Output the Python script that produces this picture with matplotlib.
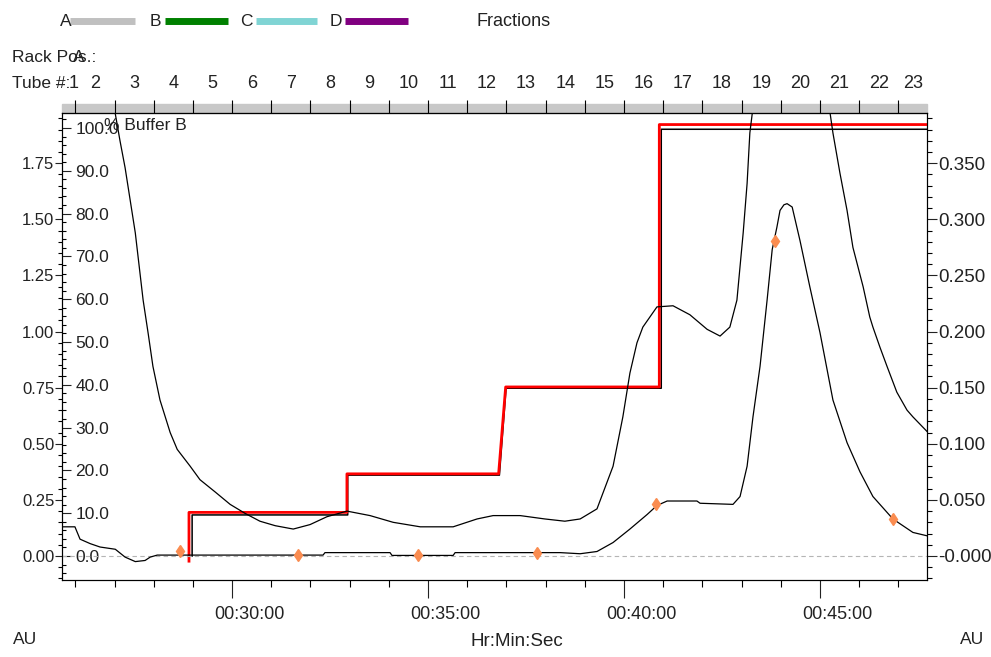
import matplotlib
matplotlib.use('Agg')
import matplotlib.pyplot as plt
import matplotlib.transforms as mtransforms
from matplotlib import font_manager
from matplotlib.lines import Line2D
from matplotlib.patches import Rectangle
from matplotlib.ticker import MultipleLocator

# run time in minutes
t_min, t_max = 25.66, 47.73

# UV trace 1 (AU, right scale)
uv1_t = [25.66, 26.63, 27.02, 27.14, 27.27, 27.40, 27.53, 27.63, 27.73, 27.86,
         27.98, 28.16, 28.42, 28.60, 28.93, 29.18, 29.57, 29.95, 30.33, 30.71,
         31.10, 31.56, 31.99, 32.42, 32.93, 33.52, 34.11, 34.80, 35.64, 36.25,
         36.66, 37.35, 37.98, 38.49, 38.88, 39.31, 39.72, 39.97, 40.15, 40.33,
         40.48, 40.84, 41.25, 41.68, 42.12, 42.45, 42.70, 42.88, 43.04, 43.14,
         43.21, 43.27, 43.47, 44.23, 44.87, 45.26, 45.33, 45.51, 45.69, 45.84,
         46.10, 46.27, 46.35, 46.53, 46.71, 46.96, 47.22, 47.37, 47.73]
uv1 = [0.70, 0.50, 0.394, 0.370, 0.346, 0.317, 0.288, 0.258, 0.228, 0.198,
       0.169, 0.139, 0.110, 0.095, 0.080, 0.068, 0.057, 0.046, 0.038, 0.031,
       0.027, 0.024, 0.028, 0.035, 0.040, 0.036, 0.030, 0.026, 0.026, 0.033,
       0.036, 0.036, 0.033, 0.031, 0.033, 0.042, 0.080, 0.124, 0.163, 0.190,
       0.204, 0.222, 0.223, 0.215, 0.202, 0.196, 0.204, 0.228, 0.288, 0.332,
       0.377, 0.394, 0.50, 0.62, 0.52, 0.394, 0.377, 0.341, 0.308, 0.275,
       0.240, 0.213, 0.204, 0.186, 0.169, 0.146, 0.130, 0.124, 0.111]

# UV trace 2 (AU, right scale)
uv2_t = [25.66, 25.99, 26.12, 26.38, 26.63, 27.02, 27.27, 27.53, 27.78, 27.91,
         28.09, 32.32, 32.37, 34.03, 34.08, 35.64, 35.69, 38.37, 38.88, 39.31,
         39.72, 40.15, 40.59, 40.84, 41.10, 41.86, 41.94, 42.78, 42.96, 43.14,
         43.29, 43.47, 43.65, 43.78, 43.90, 43.98, 44.08, 44.16, 44.29, 44.49,
         44.74, 45.00, 45.33, 45.69, 46.02, 46.35, 46.86, 47.37, 47.73]
uv2 = [0.026, 0.026, 0.015, 0.011, 0.008, 0.006, -0.001, -0.005, -0.004, -0.001,
       0.0008, 0.0008, 0.003, 0.003, 0.0005, 0.0005, 0.003, 0.003, 0.002, 0.004,
       0.012, 0.024, 0.037, 0.045, 0.049, 0.049, 0.047, 0.046, 0.053, 0.080,
       0.124, 0.169, 0.228, 0.273, 0.293, 0.308, 0.313, 0.314, 0.311, 0.281,
       0.240, 0.199, 0.139, 0.101, 0.075, 0.053, 0.033, 0.021, 0.018]

# % Buffer B: set gradient (red) and measured (black)
grad_t = [28.90, 28.90, 32.93, 32.93, 36.80, 36.98, 40.90, 40.90, 47.73]
grad_b = [-1.2, 10.2, 10.2, 19.2, 19.2, 39.5, 39.5, 100.8, 100.8]
cond_t = [28.98, 28.98, 32.95, 32.95, 36.82, 36.99, 40.95, 40.95, 47.73]
cond_b = [0.0, 9.6, 9.6, 18.9, 18.9, 39.2, 39.2, 99.7, 99.7]

# fractions
frac_t = [28.67, 31.68, 34.74, 37.78, 40.82, 43.85, 46.86]
frac_v = [0.004, 0.001, 0.001, 0.003, 0.046, 0.281, 0.033]

tube_bounds = list(range(26, 48))
tube_labels = [str(i) for i in range(1, 24)]

time_ticks = [30, 35, 40, 45]
time_labels = ['00:30:00', '00:35:00', '00:40:00', '00:45:00']
au_ticks = [0.0, 0.25, 0.5, 0.75, 1.0, 1.25, 1.5, 1.75]
au_labels = ['0.00', '0.25', '0.50', '0.75', '1.00', '1.25', '1.50', '1.75']
pct_ticks = list(range(0, 101, 10))
pct_labels = ['%.1f' % v for v in pct_ticks]
r_ticks = [0.0, 0.05, 0.10, 0.15, 0.20, 0.25, 0.30, 0.35]
r_labels = ['-0.000', '0.050', '0.100', '0.150', '0.200', '0.250', '0.300', '0.350']

installed = {f.name for f in font_manager.fontManager.ttflist}
font = 'Liberation Sans Narrow' if 'Liberation Sans Narrow' in installed else 'Liberation Sans'
plt.rcParams['font.family'] = [font, 'DejaVu Sans']
INK = '#222222'

W, H = 991, 657
fig = plt.figure(figsize=(W / 100, H / 100), dpi=100)


def fx(px):
    return px / W


def fy(py):
    return 1 - py / H


ax = fig.add_axes([fx(62), fy(580), 865 / W, 467 / H])
ax.set_xlim(t_min, t_max)
ax.set_ylim(-0.107, 1.974)
for s in ax.spines.values():
    s.set_linewidth(0.8)

# bottom time axis
ax.set_xticks(time_ticks, time_labels)
ax.xaxis.set_minor_locator(MultipleLocator(1))
ax.tick_params(axis='x', which='major', length=13, width=0.8, pad=6, labelsize=13, colors=INK)
ax.tick_params(axis='x', which='minor', length=5, width=0.8)
shift = mtransforms.ScaledTranslation(0.17, 0, fig.dpi_scale_trans)
for lbl in ax.get_xticklabels():
    lbl.set_transform(lbl.get_transform() + shift)

# left AU axis
ax.set_yticks(au_ticks, au_labels)
ax.yaxis.set_minor_locator(MultipleLocator(0.05))
ax.tick_params(axis='y', which='major', length=5, width=0.8, pad=0.5, labelsize=12, colors=INK)
ax.tick_params(axis='y', which='minor', length=3, width=0.8)

# % Buffer B axis, labels inside on the left
ax_pct = ax.twinx()
ax_pct.yaxis.tick_left()
ax_pct.set_ylim(-5.6, 103.5)
ax_pct.set_yticks(pct_ticks, pct_labels)
ax_pct.yaxis.set_minor_locator(MultipleLocator(2))
ax_pct.tick_params(axis='y', which='major', direction='in', length=6.5, width=0.8,
                   pad=-9.5, labelsize=12.5, colors=INK)
ax_pct.tick_params(axis='y', which='minor', direction='in', length=3, width=0.8)
for lbl in ax_pct.get_yticklabels():
    lbl.set_horizontalalignment('left')
for s in ax_pct.spines.values():
    s.set_visible(False)

# right AU axis
ax_r = ax.twinx()
ax_r.set_ylim(-0.0214, 0.3948)
ax_r.set_yticks(r_ticks, r_labels)
ax_r.yaxis.set_minor_locator(MultipleLocator(0.01))
ax_r.tick_params(axis='y', which='major', length=7, width=0.8, pad=1, labelsize=13.5, colors=INK)
ax_r.tick_params(axis='y', which='minor', length=3.5, width=0.8)
for s in ax_r.spines.values():
    s.set_linewidth(0.8)

ax_r.axhline(0, color='#b5b5b5', lw=0.8, ls=(0, (4, 3)))
ax_r.plot(uv1_t, uv1, color='black', lw=0.9)
ax_r.plot(uv2_t, uv2, color='black', lw=0.9)
ax_r.plot(frac_t, frac_v, ls='none', marker='d', ms=6.5, color='#fa8c50', mec='#fa8c50')
ax_pct.plot(cond_t, cond_b, color='black', lw=1.1, zorder=3)
ax_pct.plot(grad_t, grad_b, color='#ff0000', lw=2.0, zorder=4)

# tube / fraction axis on top
sec = ax.secondary_xaxis('top')
edges = [t_min] + tube_bounds + [t_max]
centers = [(a + b) / 2 for a, b in zip(edges[:-1], edges[1:])]
centers[0] = 25.96  # pushed right next to "Tube #:"
sec.set_xticks(tube_bounds, [''] * len(tube_bounds))
sec.set_xticks(centers, tube_labels, minor=True)
sec.xaxis.remove_overlapping_locs = False
sec.tick_params(which='major', length=9.5, width=0.8, direction='out')
sec.tick_params(which='minor', length=0, pad=15, labelsize=13, colors=INK)
sec.spines['top'].set_linewidth(0.8)
fig.add_artist(Rectangle((fx(62), fy(113)), 865 / W, 9 / H, transform=fig.transFigure,
                         color='#c8c8c8', zorder=-1))

# header texts
txt = dict(fontsize=12.5, color=INK, va='center')
fig.text(fx(12), fy(57), 'Rack Pos.:', **txt)
fig.text(fx(73), fy(57), 'A', **txt)
fig.text(fx(12), fy(83), 'Tube #:', **txt)
fig.text(fx(104), fy(126), '% Buffer B', fontsize=12.5, color=INK, va='center')

# legend row
legend_items = [('A', '#c0c0c0', 60, 70, 135), ('B', '#008000', 150, 165, 228),
                ('C', '#80d4d4', 240, 256, 317), ('D', '#800080', 330, 345, 408)]
for name, col, tx, x0, x1 in legend_items:
    fig.text(fx(tx), fy(21), name, **txt)
    fig.add_artist(Line2D([fx(x0), fx(x1)], [fy(21), fy(21)], color=col, lw=5,
                          transform=fig.transFigure, solid_capstyle='butt'))
fig.text(fx(476), fy(21), 'Fractions', fontsize=13, color=INK, va='center')

fig.text(fx(25), fy(640), 'AU', ha='center', **txt)
fig.text(fx(972), fy(640), 'AU', ha='center', **txt)
fig.text(fx(517), fy(641), 'Hr:Min:Sec', ha='center', fontsize=13.5, color=INK, va='center')

fig.savefig('out.png', dpi=100)
